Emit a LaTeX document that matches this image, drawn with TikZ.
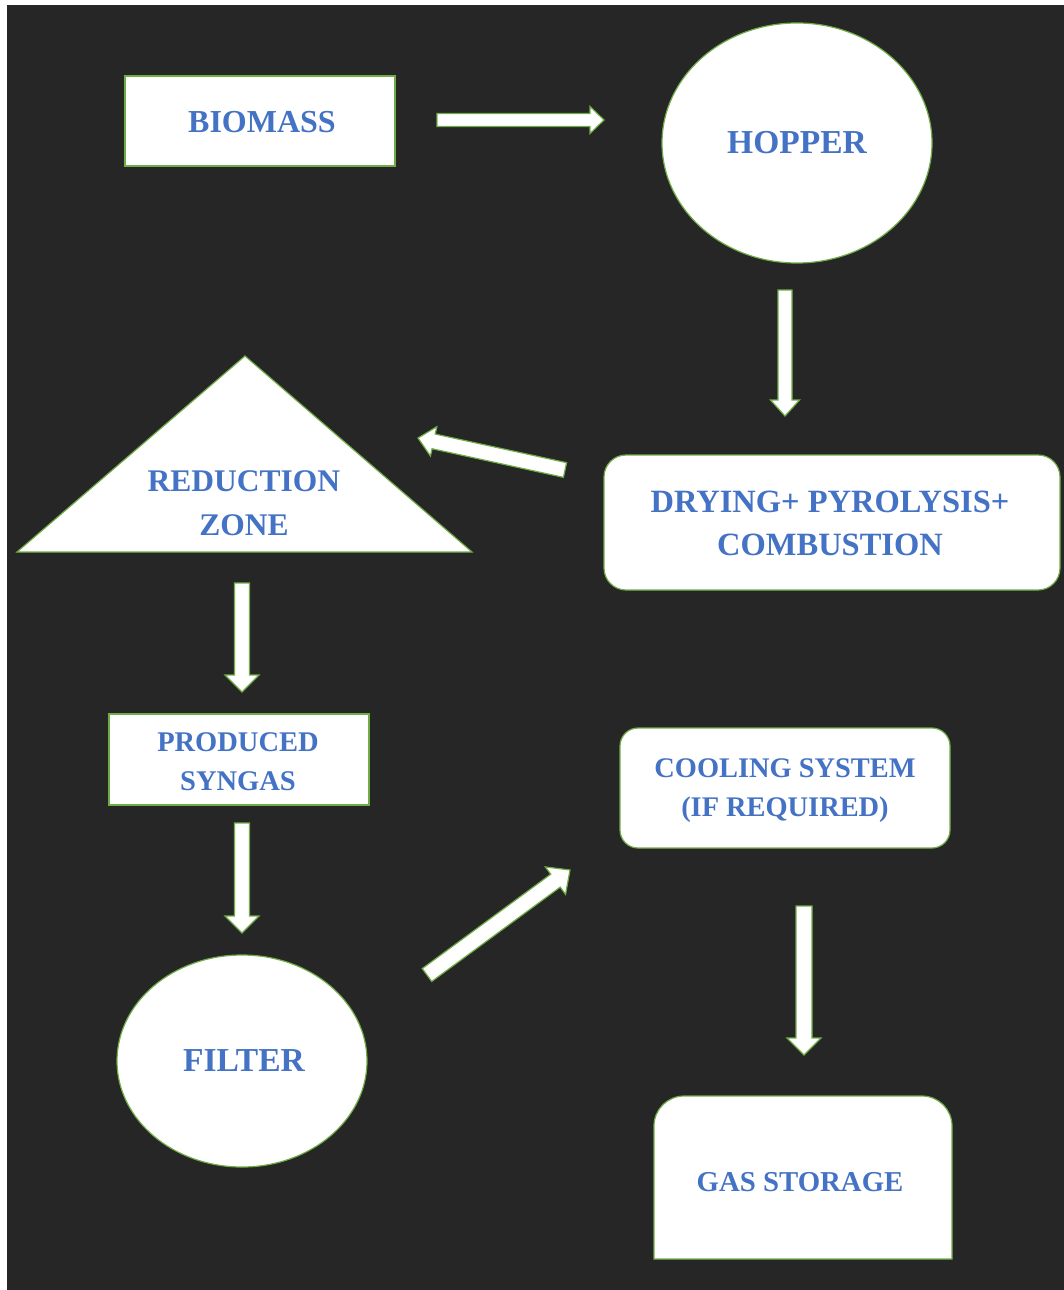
\documentclass[tikz,border=0pt]{standalone}
\usepackage{fontspec}
\setmainfont{Liberation Serif}
\usetikzlibrary{calc,shapes.geometric}
\definecolor{bg}{HTML}{262626}
\definecolor{edgegreen}{HTML}{70AD47}
\definecolor{tblue}{HTML}{4472C4}
% block arrow: #1 from, #2 to, #3 half shaft, #4 half head, #5 head length
\newcommand\blockarr[5]{%
  \coordinate (ban) at ($(#2)!#5!(#1)$);
  \draw[barrow] ($(#1)!#3!-90:(#2)$) -- ($(ban)!#3!-90:(#2)$) -- ($(ban)!#4!-90:(#2)$)
    -- (#2) -- ($(ban)!#4!90:(#2)$) -- ($(ban)!#3!90:(#2)$) -- ($(#1)!#3!90:(#2)$) -- cycle;}
\begin{document}
\begin{tikzpicture}[x=1pt,y=-1pt,
  box/.style={draw=edgegreen, fill=white, line width=1.2pt, inner sep=0pt},
  lbl/.style={text=tblue, align=center, inner sep=0pt},
  barrow/.style={draw=edgegreen, fill=white, line width=1.2pt, line join=miter}]
\useasboundingbox (0,0) rectangle (1064,1290);
\fill[white] (0,0) rectangle (1064,1290);
\fill[bg] (7,5) rectangle (1064,1290);

% BIOMASS
\node[box, rectangle, minimum width=270pt, minimum height=90pt] (biomassbox) at (260,121) {};
\node[lbl, font=\bfseries\fontsize{32}{40}\selectfont] (biomass) at (262,122) {BIOMASS};

% HOPPER
\node[box, ellipse, minimum width=270pt, minimum height=240pt] (hopperbox) at (797,143) {};
\node[lbl, font=\bfseries\fontsize{33.5}{40}\selectfont] (hopper) at (797,143) {HOPPER};

% REDUCTION ZONE triangle
\coordinate (triapex) at (245,356);
\coordinate (trileft) at (17,552);
\coordinate (triright) at (472,552);
\draw[box] (triapex) -- (triright) -- (trileft) -- cycle;
\node[lbl, font=\bfseries\fontsize{31.5}{44}\selectfont] (reduction) at (244,503) {REDUCTION\\ZONE};

% DRYING box
\node[box, rectangle, rounded corners=22pt, minimum width=456pt, minimum height=135pt] (dryingbox) at (832,522.5) {};
\node[lbl, font=\bfseries\fontsize{32.5}{43}\selectfont] (drying) at (830,523.5) {DRYING+ PYROLYSIS+\\COMBUSTION};

% PRODUCED SYNGAS
\node[box, rectangle, minimum width=260pt, minimum height=91pt] (syngasbox) at (239,759.5) {};
\node[lbl, font=\bfseries\fontsize{28.5}{39}\selectfont] (syngas) at (238,761.5) {PRODUCED\\SYNGAS};

% FILTER
\node[box, ellipse, minimum width=250pt, minimum height=212pt] (filterbox) at (242,1061) {};
\node[lbl, font=\bfseries\fontsize{33.5}{40}\selectfont] (filter) at (244,1061) {FILTER};

% COOLING SYSTEM
\node[box, rectangle, rounded corners=18pt, minimum width=330pt, minimum height=120pt] (coolingbox) at (785,788) {};
\node[lbl, font=\bfseries\fontsize{28.4}{39}\selectfont] (cooling) at (785,790.5) {COOLING SYSTEM\\(IF REQUIRED)};

% GAS STORAGE
\draw[box] (654,1259) -- (654,1126) arc[start angle=180, end angle=90, radius=30pt]
  -- (922,1096) arc[start angle=90, end angle=0, radius=30pt] -- (952,1259) -- cycle;
\node[lbl, font=\bfseries\fontsize{28.8}{36}\selectfont] (storage) at (800,1182) {GAS STORAGE};

% arrows
\coordinate (a1s) at (437,120);  \coordinate (a1e) at (604,120);
\coordinate (a2s) at (785,290);  \coordinate (a2e) at (785,416);
\coordinate (a3s) at (565,470);  \coordinate (a3e) at (418,438);
\coordinate (a4s) at (242,583);  \coordinate (a4e) at (242,692);
\coordinate (a5s) at (242,823);  \coordinate (a5e) at (242,933);
\coordinate (a6s) at (427,975);  \coordinate (a6e) at (570,870);
\coordinate (a7s) at (804,906);  \coordinate (a7e) at (804,1055);
\blockarr{a1s}{a1e}{6.5pt}{13.5pt}{14pt}
\blockarr{a2s}{a2e}{7pt}{14.5pt}{16pt}
\blockarr{a3s}{a3e}{7.5pt}{15pt}{16pt}
\blockarr{a4s}{a4e}{7.5pt}{17pt}{17pt}
\blockarr{a5s}{a5e}{7.5pt}{17pt}{17pt}
\blockarr{a6s}{a6e}{8pt}{17pt}{18pt}
\blockarr{a7s}{a7e}{8pt}{17pt}{17pt}
\end{tikzpicture}
\end{document}
